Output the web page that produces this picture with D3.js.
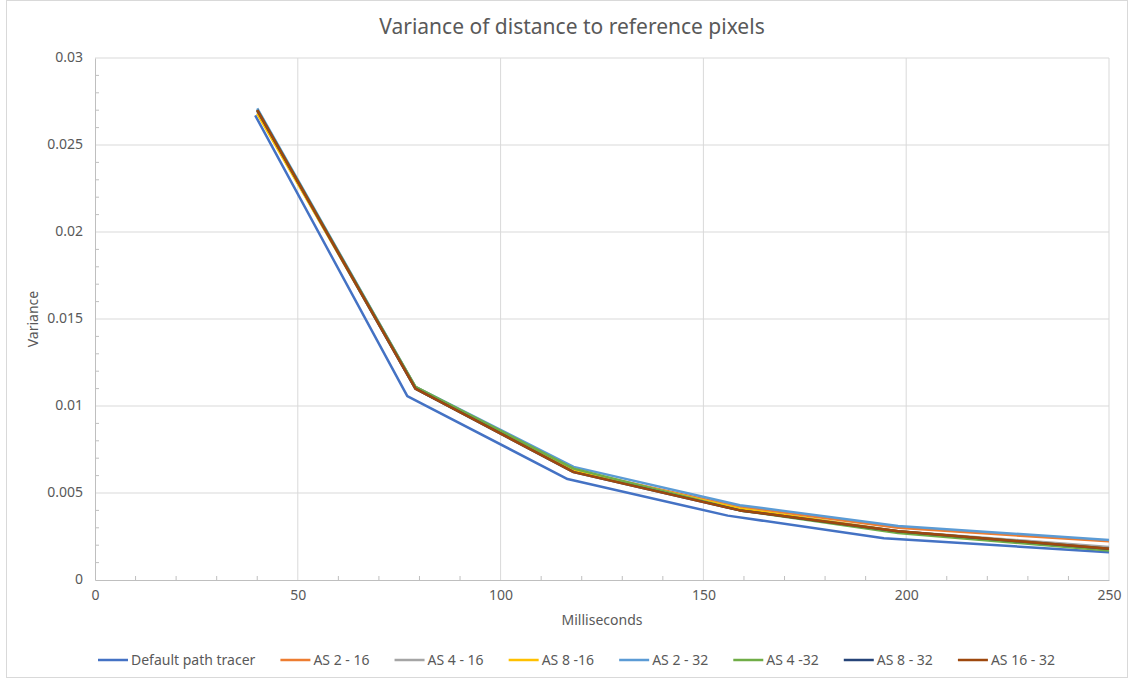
<!DOCTYPE html>
<html>
<head>
<meta charset="UTF-8">
<title>Variance of distance to reference pixels</title>
<script src="https://d3js.org/d3.v7.min.js"></script>
<style>
  body { margin: 0; background: #fff; font-family: "Noto Sans", "DejaVu Sans", sans-serif; }
  text { fill: #595959; }
</style>
</head>
<body>
<div id="chart"></div>
<script>
// series names and colours
const seriesNames = ["Default path tracer", "AS 2 - 16", "AS 4 - 16", "AS 8 -16", "AS 2 - 32", "AS 4 -32", "AS 8 - 32", "AS 16 - 32"];
const seriesColors = ["#4472C4", "#ED7D31", "#A5A5A5", "#FFC000", "#5B9BD5", "#70AD47", "#264478", "#9E480E"];

// milliseconds (x) per series
const msDefault = [39.5, 77, 116.5, 156, 194.5, 250];
const msAS = [40, 79, 118, 159, 198, 250];

// variance values
const defaultTracer = [0.0267, 0.01057, 0.0058, 0.0037, 0.0024, 0.0016];
const as2_16 = [0.0270, 0.0110, 0.0063, 0.0042, 0.0030, 0.00222];
const as4_16 = [0.0269, 0.0110, 0.0063, 0.0041, 0.0028, 0.0019];
const as8_16 = [0.0268, 0.0111, 0.0063, 0.0041, 0.0028, 0.0018];
const as2_32 = [0.0271, 0.0111, 0.0065, 0.0043, 0.0031, 0.0023];
const as4_32 = [0.0270, 0.0111, 0.0064, 0.0040, 0.0027, 0.0017];
const as8_32 = [0.0270, 0.0110, 0.0062, 0.0040, 0.0028, 0.0018];
const as16_32 = [0.0270, 0.0110, 0.0062, 0.0040, 0.0028, 0.0018];

const xTicks = [0, 50, 100, 150, 200, 250];
const yTicks = [0, 0.005, 0.01, 0.015, 0.02, 0.025, 0.03];

const seriesX = [msDefault, msAS, msAS, msAS, msAS, msAS, msAS, msAS];
const seriesY = [defaultTracer, as2_16, as4_16, as8_16, as2_32, as4_32, as8_32, as16_32];

const width = 1134, height = 681;
const margin = { top: 58, right: 25, bottom: 101, left: 95 };

const svg = d3.select("#chart").append("svg")
  .attr("width", width)
  .attr("height", height);

svg.append("rect")
  .attr("x", 6.5).attr("y", 0.5)
  .attr("width", 1121).attr("height", 677)
  .attr("fill", "none").attr("stroke", "#d9d9d9");

const x = d3.scaleLinear().domain([0, 250]).range([margin.left, width - margin.right]);
const y = d3.scaleLinear().domain([0, 0.03]).range([height - margin.bottom, margin.top]);

// gridlines
svg.append("g").selectAll("line").data(xTicks.slice(1)).join("line")
  .attr("x1", d => x(d)).attr("x2", d => x(d))
  .attr("y1", y(0)).attr("y2", y(0.03))
  .attr("stroke", "#d9d9d9");
svg.append("g").selectAll("line").data(yTicks.slice(1)).join("line")
  .attr("x1", x(0)).attr("x2", x(250))
  .attr("y1", d => y(d)).attr("y2", d => y(d))
  .attr("stroke", "#d9d9d9");

// minor ticks (inside)
const xMinor = d3.range(10, 250, 10).filter(d => d % 50 !== 0);
const yMinor = d3.range(1, 30).map(d => d / 1000).filter((d, i) => (i + 1) % 5 !== 0);
svg.append("g").selectAll("line").data(xMinor).join("line")
  .attr("x1", d => x(d)).attr("x2", d => x(d))
  .attr("y1", y(0)).attr("y2", y(0) - 4)
  .attr("stroke", "#bfbfbf");
svg.append("g").selectAll("line").data(yMinor).join("line")
  .attr("x1", x(0)).attr("x2", x(0) + 4)
  .attr("y1", d => y(d)).attr("y2", d => y(d))
  .attr("stroke", "#bfbfbf");

// axes
const xAxis = svg.append("g")
  .attr("transform", `translate(0,${y(0)})`)
  .call(d3.axisBottom(x).tickValues(xTicks).tickSize(0).tickPadding(10).tickFormat(d3.format("d")));
const yAxis = svg.append("g")
  .attr("transform", `translate(${x(0)},0)`)
  .call(d3.axisLeft(y).tickValues(yTicks).tickSize(0).tickPadding(12).tickFormat(d => d === 0 ? "0" : String(+d.toFixed(3))));
[xAxis, yAxis].forEach(g => {
  g.select(".domain").attr("stroke", "#bfbfbf");
  g.selectAll("text").attr("font-size", 14).attr("font-family", "Noto Sans, sans-serif").style("fill", "#595959");
});
yAxis.selectAll("text").attr("dy", "0.25em");

// lines
const line = d3.line().x(d => x(d[0])).y(d => y(d[1]));
seriesNames.forEach((name, i) => {
  const pts = seriesX[i].map((v, j) => [v, seriesY[i][j]]);
  svg.append("path")
    .datum(pts)
    .attr("d", line)
    .attr("fill", "none")
    .attr("stroke", seriesColors[i])
    .attr("stroke-width", 2.5)
    .attr("stroke-linejoin", "round");
});

// title and axis labels
svg.append("text")
  .attr("x", 572).attr("y", 34)
  .attr("text-anchor", "middle")
  .attr("font-size", 21)
  .text("Variance of distance to reference pixels");
svg.append("text")
  .attr("x", 602).attr("y", 625)
  .attr("text-anchor", "middle")
  .attr("font-size", 14)
  .text("Milliseconds");
svg.append("text")
  .attr("transform", `translate(38,${(y(0) + y(0.03)) / 2}) rotate(-90)`)
  .attr("text-anchor", "middle")
  .attr("font-size", 14)
  .text("Variance");

// legend: spread items between x=98 and x=1055
const legend = svg.append("g").attr("transform", "translate(98,660)");
const items = seriesNames.map((name, i) => {
  const g = legend.append("g");
  g.append("line").attr("x1", 0).attr("x2", 30).attr("y1", 0).attr("y2", 0)
    .attr("stroke", seriesColors[i]).attr("stroke-width", 2.5);
  const t = g.append("text").attr("x", 33).attr("y", 5).attr("font-size", 14).text(name);
  return { g, w: 33 + t.node().getComputedTextLength() };
});
const gap = (1055 - 98 - d3.sum(items, d => d.w)) / (items.length - 1);
let lx = 0;
items.forEach(it => {
  it.g.attr("transform", `translate(${lx},0)`);
  lx += it.w + gap;
});
</script>
</body>
</html>
